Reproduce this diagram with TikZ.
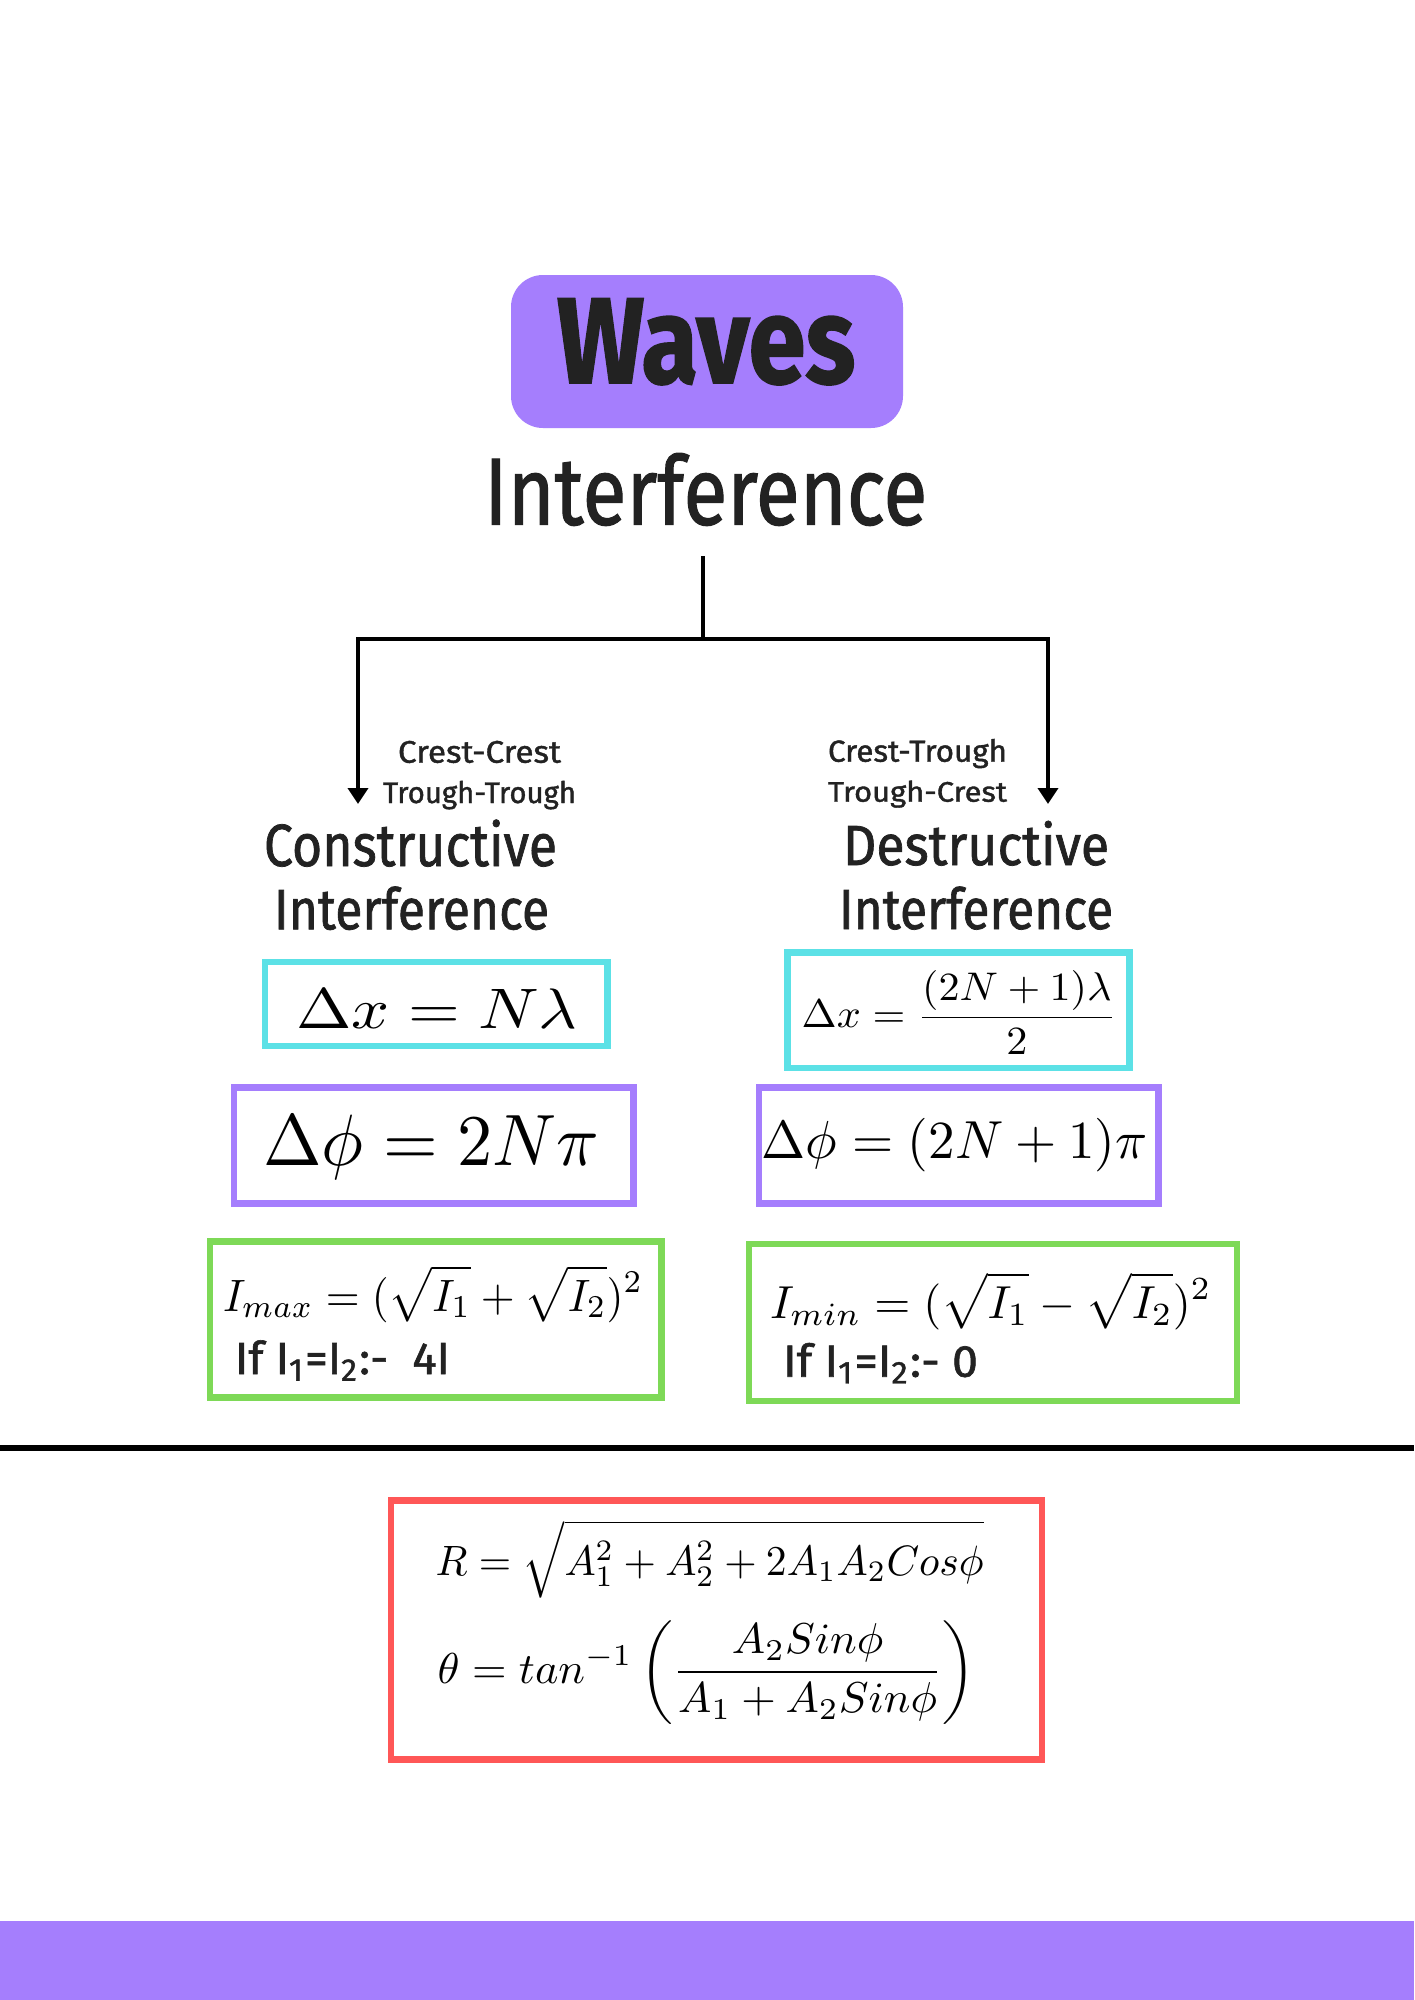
\documentclass[tikz,border=0pt]{standalone}
\usepackage{fontspec}
\usepackage{amsmath}
\usepackage{graphicx}
\usetikzlibrary{arrows.meta}
\newfontfamily\hand[FakeBold=1.3]{Fira Sans}
\definecolor{wpurple}{HTML}{A57EFD}
\definecolor{wcyan}{HTML}{5CE1E6}
\definecolor{wgreen}{HTML}{7ED957}
\definecolor{wred}{HTML}{FF5757}
\definecolor{ink}{HTML}{222222}
% text fitted to ink width #1 and cap height #2
\newcommand\fitt[3]{\resizebox{#1pt}{#2pt}{\hand\vphantom{I}\smash{#3}}}
% formula fitted to width #1 and height #2 of glyph #3
\newcommand\fitm[4]{\resizebox{#1pt}{#2pt}{$\displaystyle\vphantom{#3}\smash{\displaystyle #4}$}}
\tikzset{
  txt/.style={anchor=base west, inner sep=0pt, outer sep=0pt, text=ink},
  frm/.style={anchor=base west, inner sep=0pt, outer sep=0pt, text=black},
  fbox/.style={draw=#1, line width=6.5pt, inner sep=0pt, fill=none},
  conn/.style={draw=black, line width=3.8pt},
  arr/.style={conn, -{Triangle[width=20pt,length=16pt]}}
}
\begin{document}
\begin{tikzpicture}[x=1pt,y=-1pt]
\useasboundingbox (0,0) rectangle (1414,2000);
\fill[white] (0,0) rectangle (1414,2000);

% title
\node[fill=wpurple, rounded corners=32pt, minimum width=392pt, minimum height=153pt, inner sep=0pt] (wbox) at (707,351.5) {};
\node[txt] (waves) at (557,383) {\fitt{298}{84}{\bfseries Waves}};
\node[txt] (title) at (484,524.6) {\fitt{443}{65.6}{Interference}};

% connectors
\coordinate (stem) at (703,556);
\coordinate (jn) at (703,639);
\coordinate (jl) at (358,639);
\coordinate (jr) at (1048,639);
\coordinate (tipl) at (358,804);
\coordinate (tipr) at (1048,804);
\draw[conn] (stem) -- (jn);
\draw[conn, line cap=rect] (jl) -- (jr);
\draw[arr] (jl) -- (tipl);
\draw[arr] (jr) -- (tipr);

% labels
\node[txt] (cc) at (398,762.7) {\fitt{163}{21.5}{Crest-Crest}};
\node[txt] (tt) at (383,803) {\fitt{193}{20.5}{Trough-Trough}};
\node[txt] (ct) at (828,761.7) {\fitt{179}{21}{Crest-Trough}};
\node[txt] (tc) at (828,801.7) {\fitt{179}{19.5}{Trough-Crest}};

\node[txt] (cons) at (264,866) {\fitt{293}{41}{Constructive}};
\node[txt] (consi) at (274,929.3) {\fitt{275}{39.3}{Interference}};
\node[txt] (dest) at (843,865) {\fitt{266}{39}{Destructive}};
\node[txt] (desti) at (839,929) {\fitt{274}{39}{Interference}};

% boxes
\node[fbox=wcyan, minimum width=342.3pt, minimum height=83.8pt] (b1) at (436.35,1004.1) {};
\node[fbox=wcyan, minimum width=342pt, minimum height=115.5pt] (b2) at (958.5,1010.25) {};
\node[fbox=wpurple, minimum width=399.3pt, minimum height=116pt] (b3) at (433.85,1145.5) {};
\node[fbox=wpurple, minimum width=399.3pt, minimum height=116pt] (b4) at (958.85,1145.5) {};
\node[fbox=wgreen, minimum width=451.7pt, minimum height=156.1pt] (b5) at (435.85,1319.35) {};
\node[fbox=wgreen, minimum width=487.6pt, minimum height=156.9pt] (b6) at (993,1322.65) {};
\node[fbox=wred, minimum width=651.4pt, minimum height=258.6pt] (b7) at (716.5,1630) {};

% formulas
\node[frm] (f1) at (296,1028.3) {\fitm{281.7}{39}{\Delta}{\Delta x = N\lambda}};
\node[frm] (f2) at (801.7,1027.3) {\resizebox{315pt}{57pt}{$\displaystyle \Delta x = \frac{(2N+1)\lambda}{2}$}};
\node[frm] (f3) at (263.3,1165.7) {\fitm{336}{49.7}{\Delta}{\Delta\phi = 2N\pi}};
\node[frm] (f4) at (761.7,1158.3) {\fitm{385.6}{36.6}{\Delta}{\Delta\phi = (2N+1)\pi}};
\node[frm] (f5) at (223,1311) {\fitm{420}{31}{I}{I_{max} = (\sqrt{I_1}+\sqrt{I_2})^2}};
\node[frm] (f6) at (770,1318.3) {\fitm{441.7}{31.6}{I}{I_{min} = (\sqrt{I_1}-\sqrt{I_2})^2}};
\node[txt] (if1) at (235,1374) {\fitt{215}{31}{If I\textsubscript{1}=I\textsubscript{2}:- \ 4I}};
\node[txt] (if2) at (783,1376.7) {\fitt{195}{31}{If I\textsubscript{1}=I\textsubscript{2}:- 0}};

% separator
\coordinate (sepl) at (0,1448);
\coordinate (sepr) at (1414,1448);
\draw[line width=5.5pt] (sepl) -- (sepr);

\node[frm] (fr) at (435.5,1575) {\fitm{548}{29}{R}{R = \sqrt{A_1^2 + A_2^2 + 2A_1A_2Cos\phi}}};
\node[frm] (ft) at (437.7,1683) {\fitm{537.3}{30}{\theta}{\theta = tan^{-1}\left(\frac{A_2Sin\phi}{A_1 + A_2Sin\phi}\right)}};

% bottom band
\fill[wpurple] (0,1921) rectangle (1414,2000);
\end{tikzpicture}
\end{document}
